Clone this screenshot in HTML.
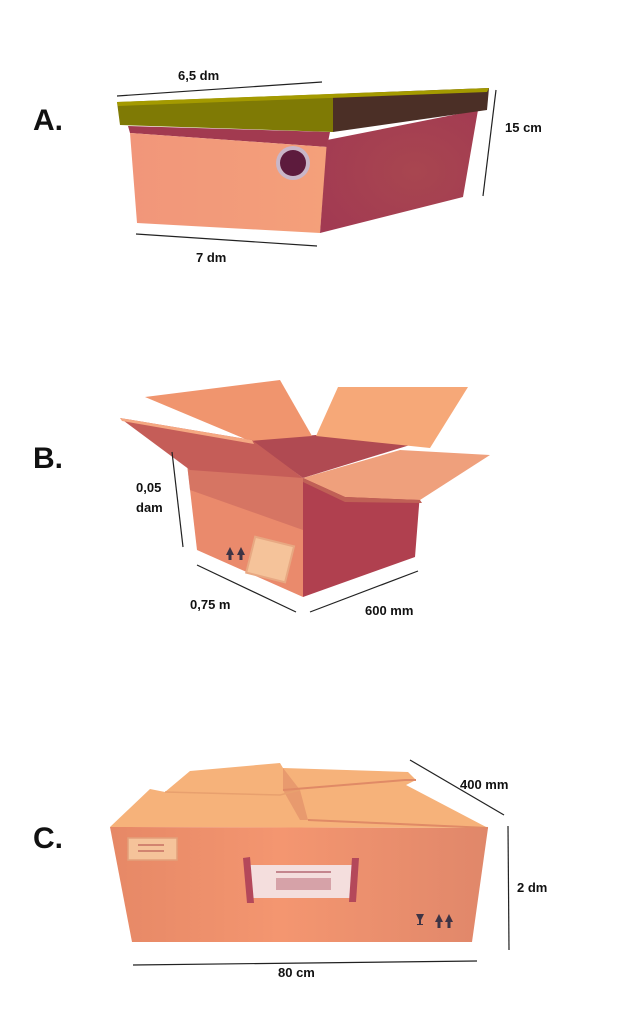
<!DOCTYPE html>
<html><head><meta charset="utf-8"><style>
html,body{margin:0;padding:0;background:#fff;width:633px;height:1024px;overflow:hidden}
text{font-family:"Liberation Sans",sans-serif;font-weight:bold;fill:#111}
</style></head><body>
<svg width="633" height="1024" viewBox="0 0 633 1024" xmlns="http://www.w3.org/2000/svg">
<defs>
<linearGradient id="fa" x1="0" y1="0" x2="1" y2="0"><stop offset="0" stop-color="#f1967a"/><stop offset="1" stop-color="#f4a07a"/></linearGradient>
<radialGradient id="ra" cx="0.6" cy="0.5" r="0.7"><stop offset="0" stop-color="#a84650"/><stop offset="1" stop-color="#a23a52"/></radialGradient>
<linearGradient id="fc" x1="0" y1="0" x2="1" y2="0"><stop offset="0" stop-color="#e68866"/><stop offset="0.45" stop-color="#f49670"/><stop offset="1" stop-color="#e0876a"/></linearGradient>
</defs>

<!-- A -->
<text x="33" y="130" font-size="30">A.</text>
<line x1="117" y1="96" x2="322" y2="82" stroke="#222" stroke-width="1.2"/>
<text x="178" y="80" font-size="13">6,5 dm</text>
<polygon points="128,126 330,132 327,147 130,133" fill="#a23a50"/>
<polygon points="130,133 327,147 320,233 137,223" fill="url(#fa)"/>
<polygon points="327,140 478,110 463,197 320,233" fill="url(#ra)"/>
<polygon points="117,102 333,94 333,132 120,125" fill="#7f7a05"/>
<polygon points="333,94 489,88 487,110 333,132" fill="#4b2f26"/>
<polygon points="117,102 489,88 487,92 118,106" fill="#a49a00"/>
<circle cx="293" cy="163" r="17" fill="#c9b6c8"/>
<circle cx="293" cy="163" r="13" fill="#5d1b3d"/>
<line x1="496" y1="90" x2="483" y2="196" stroke="#222" stroke-width="1.2"/>
<text x="505" y="132" font-size="13">15 cm</text>
<line x1="136" y1="234" x2="317" y2="246" stroke="#222" stroke-width="1.2"/>
<text x="196" y="262" font-size="13">7 dm</text>

<!-- B -->
<text x="33" y="468" font-size="30">B.</text>
<polygon points="250,440 316,435 410,445 303,478" fill="#b04a52"/>
<polygon points="145,397 280,380 312,436 250,441" fill="#f0956e"/>
<polygon points="316,436 338,387 468,387 430,448" fill="#f6a878"/>
<polygon points="186,455 303,478 303,597 197,550" fill="#ea8a6c"/>
<polygon points="186,455 303,478 303,530 190,490" fill="#c8685e" opacity="0.6"/>
<polygon points="303,478 420,493 415,557 303,597" fill="#b0404f"/>
<polygon points="120,418 252,440 303,478 190,470" fill="#c55d58"/>
<polygon points="120,418 252,440 254,444 122,421" fill="#f5a882"/>
<polygon points="303,478 400,450 490,455 420,500 345,497" fill="#efa07c"/>
<polygon points="303,478 345,497 420,500 422,503 345,502 303,482" fill="#c06056"/>
<path d="M226 555 l4-8 4 8 h-2.5 v5 h-3 v-5z M237 555 l4-8 4 8 h-2.5 v5 h-3 v-5z" fill="#3d3445"/>
<rect x="250" y="541" width="40" height="37" fill="#f5c39a" stroke="#e8a882" stroke-width="2" transform="rotate(14 270 560)"/>
<line x1="172" y1="452" x2="183" y2="547" stroke="#222" stroke-width="1.2"/>
<text x="136" y="492" font-size="13">0,05</text>
<text x="136" y="512" font-size="13">dam</text>
<line x1="197" y1="565" x2="296" y2="612" stroke="#222" stroke-width="1.2"/>
<text x="190" y="609" font-size="13">0,75 m</text>
<line x1="310" y1="612" x2="418" y2="571" stroke="#222" stroke-width="1.2"/>
<text x="365" y="615" font-size="13">600 mm</text>

<!-- C -->
<text x="33" y="848" font-size="30">C.</text>
<polygon points="110,827 150,789 165,792 190,771 280,763 283,768 408,772 416,780 406,785 488,828" fill="#f6b27a"/>
<polygon points="283,768 300,790 308,820 300,820 283,790" fill="#e89a6e"/>
<polyline points="165,792 280,795 300,790" fill="none" stroke="#e8a06e" stroke-width="1.5"/>
<polyline points="283,790 405,780 416,780" fill="none" stroke="#e08a66" stroke-width="2"/>
<polyline points="308,820 400,824 488,828" fill="none" stroke="#e08a66" stroke-width="2"/>
<polygon points="110,827 488,828 472,942 132,942" fill="url(#fc)"/>
<rect x="128" y="838" width="49" height="22" fill="#f5c39a" stroke="#e3a07a" stroke-width="1.5"/>
<rect x="138" y="844" width="26" height="2" fill="#d28470"/><rect x="138" y="850" width="26" height="2" fill="#d28470"/>
<rect x="250" y="865" width="103" height="33" fill="#f4dedd"/>
<polygon points="243,858 250,857 254,903 247,903" fill="#b4485a"/>
<polygon points="352,858 359,858 356,902 349,902" fill="#b4485a"/>
<rect x="276" y="878" width="55" height="12" fill="#d6a2a8"/>
<rect x="276" y="871" width="55" height="2" fill="#c4868e"/>
<path d="M416 914 h8 l-3 6 v4 h2 v1 h-6 v-1 h2 v-4z" fill="#3d3445"/>
<path d="M435 922 l4-8 4 8 h-2.5 v6 h-3 v-6z M445 922 l4-8 4 8 h-2.5 v6 h-3 v-6z" fill="#3d3445"/>
<line x1="410" y1="760" x2="504" y2="815" stroke="#222" stroke-width="1.2"/>
<text x="460" y="789" font-size="13">400 mm</text>
<line x1="508" y1="826" x2="509" y2="950" stroke="#222" stroke-width="1.2"/>
<text x="517" y="892" font-size="13">2 dm</text>
<line x1="133" y1="965" x2="477" y2="961" stroke="#222" stroke-width="1.2"/>
<text x="278" y="977" font-size="13">80 cm</text>
</svg>
</body></html>
